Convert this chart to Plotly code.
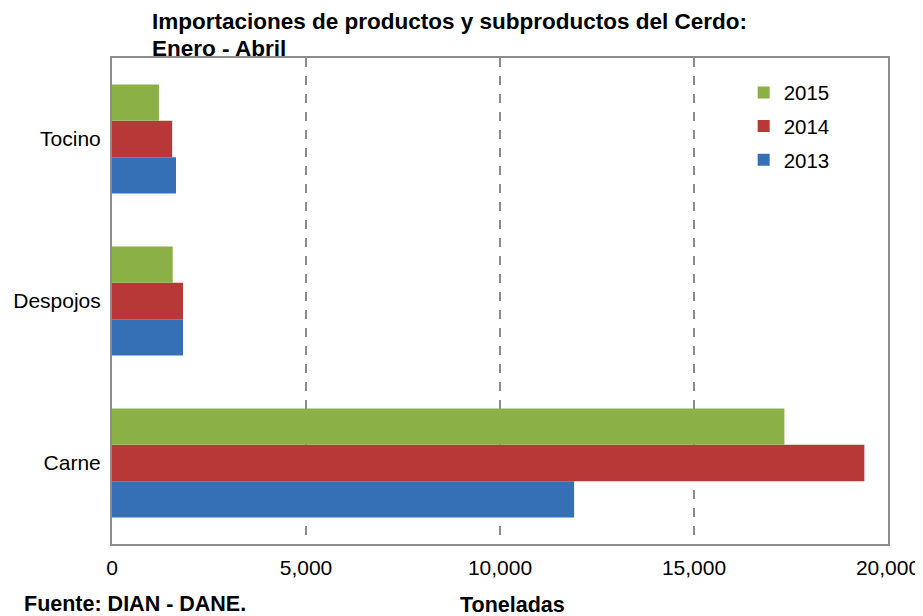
import plotly.graph_objects as go

categories = ["Carne", "Despojos", "Tocino"]
years = ["2013", "2014", "2015"]
v2013 = [11910, 1830, 1650]
v2014 = [19390, 1830, 1550]
v2015 = [17330, 1565, 1210]
colors = {"2013": "#3570b7", "2014": "#b73836", "2015": "#8bb045"}
legend_rank = {"2013": 3, "2014": 2, "2015": 1}
tick_vals = [0, 5000, 10000, 15000, 20000]
tick_text = ["0", "5,000", "10,000", "15,000", "20,000"]
title_lines = ["Importaciones de productos y subproductos del Cerdo:", "Enero - Abril"]

FONT = "Liberation Sans, Arial, sans-serif"

fig = go.Figure()
for yr, vals in zip(years, [v2013, v2014, v2015]):
    fig.add_trace(go.Bar(
        y=categories, x=vals, name=yr, orientation="h", legendgroup=yr,
        legendrank=legend_rank[yr],
        marker=dict(color=colors[yr], line=dict(width=0)),
    ))

fig.update_layout(
    width=915, height=608,
    margin=dict(l=104, r=35, t=50, b=72, autoexpand=False),
    paper_bgcolor="white", plot_bgcolor="white",
    barmode="group", bargap=0.326, bargroupgap=0,
    font=dict(family=FONT, size=21, color="black"),
    showlegend=True,
    legend=dict(
        x=0.814, y=0.97, xanchor="left", yanchor="top",
        traceorder="grouped", bgcolor="rgba(0,0,0,0)",
        font=dict(size=20.5), itemwidth=30, tracegroupgap=4,
    ),
    xaxis=dict(
        range=[0, 20000], tickvals=tick_vals, ticktext=tick_text,
        showgrid=True, gridcolor="#8c8c8c", griddash="dash", gridwidth=1.5,
        showline=True, linecolor="#8c8c8c", linewidth=2, mirror=True,
        ticks="", zeroline=False, ticklabelstandoff=4,
    ),
    yaxis=dict(
        showline=True, linecolor="#8c8c8c", linewidth=2, mirror=True,
        showgrid=False, ticks="", ticklabelstandoff=5,
    ),
    annotations=[
        dict(text="<b>" + title_lines[0] + "</b>",
             x=0.0503, y=1, xref="paper", yref="paper", xanchor="left", yanchor="bottom",
             yshift=23, showarrow=False, font=dict(size=22.5), borderpad=0),
        dict(text="<b>" + title_lines[1] + "</b>",
             x=0.0503, y=1, xref="paper", yref="paper", xanchor="left", yanchor="bottom",
             yshift=-4, showarrow=False, font=dict(size=22.5), borderpad=0),
        dict(text="<b>Fuente: DIAN - DANE.</b>", x=-0.116, y=-0.1236, xref="paper", yref="paper",
             xanchor="left", yanchor="middle", showarrow=False, font=dict(size=21.5)),
        dict(text="<b>Toneladas</b>", x=0.5155, y=-0.1255, xref="paper", yref="paper",
             xanchor="center", yanchor="middle", showarrow=False, font=dict(size=21.5),
             borderpad=0),
    ],
)

fig.write_html("out.html")
